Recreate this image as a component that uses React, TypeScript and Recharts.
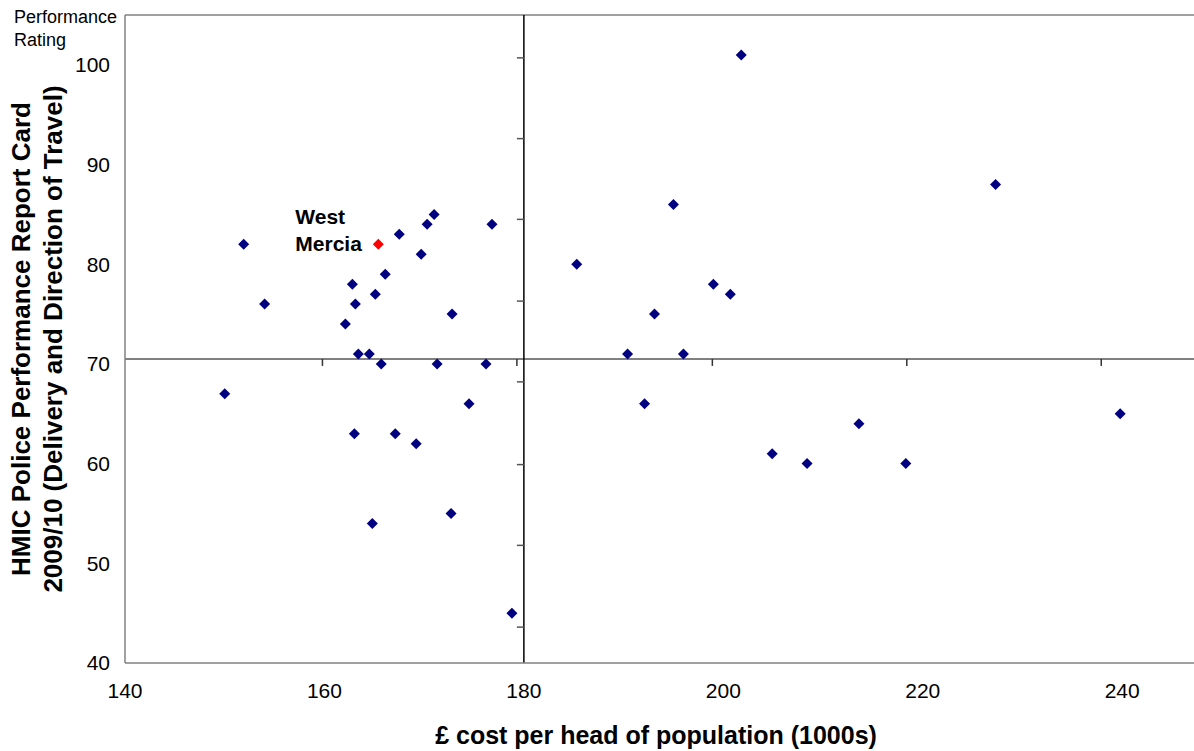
import React from "react";
import { ScatterChart, Scatter, XAxis, YAxis, ReferenceLine } from "recharts";

const costTicks = [140, 160, 180, 200, 220, 240];
const ratingTicks = [40, 50, 60, 70, 80, 90, 100];

// quadrant axes cross here, with their own (secondary) tick spacing
const crossCost = 180;
const crossRating = 70.5;
const crossCostTicks = [159.8, 179.3, 198.9, 218.4, 237.9];
const crossRatingTicks = [100.7, 92.6, 84.5, 76.3, 68.2, 59.9, 51.8, 43.6];

const forceCost = [
  151.9, 154.0, 150.0, 162.1, 162.8, 163.1, 163.4, 164.5, 165.1, 165.7, 166.1,
  167.5, 169.7, 170.3, 171.0, 172.8, 171.3, 176.8, 176.2, 174.5, 163.0, 167.1,
  169.2, 164.8, 172.7, 178.8, 185.3, 190.4, 192.1, 193.1, 195.0, 196.0, 199.0,
  200.7, 201.8, 204.9, 208.4, 213.6, 218.3, 227.3, 239.8,
];
const forceRating = [
  82, 76, 67, 74, 78, 76, 71, 71, 77, 70, 79, 83, 81, 84, 85, 75, 70, 84, 70, 66,
  63, 63, 62, 54, 55, 45, 80, 71, 66, 75, 86, 71, 78, 77, 101, 61, 60, 64, 60, 88,
  65,
];
const westMercia = { name: "West Mercia", cost: 165.4, rating: 82 };

const forces = forceCost.map((cost, i) => ({ cost, rating: forceRating[i] }));

const FONT = '"Liberation Sans", Arial, sans-serif';

function Diamond({ cx, cy, fill }: any) {
  const r = 5.5;
  return (
    <polygon
      points={`${cx},${cy - r} ${cx + r},${cy} ${cx},${cy + r} ${cx - r},${cy}`}
      fill={fill}
    />
  );
}

function WestMerciaPoint(props: any) {
  const { cx, cy } = props;
  const [first, second] = westMercia.name.split(" ");
  return (
    <g>
      <Diamond cx={cx} cy={cy} fill="#ff0000" />
      <text x={cx - 83} y={cy - 20} fontSize={21} fontWeight="bold" fill="#000" fontFamily={FONT}>
        {first}
      </text>
      <text x={cx - 83} y={cy + 7} fontSize={21} fontWeight="bold" fill="#000" fontFamily={FONT}>
        {second}
      </text>
    </g>
  );
}

function YTitle({ viewBox }: any) {
  const cy = viewBox.y + viewBox.height / 2;
  return (
    <g fontFamily={FONT} fontWeight="bold" fontSize={26} fill="#000">
      <text x={30} y={cy} transform={`rotate(-90 30 ${cy})`} textAnchor="middle">
        HMIC Police Performance Report Card
      </text>
      <text x={62} y={cy} transform={`rotate(-90 62 ${cy})`} textAnchor="middle">
        2009/10 (Delivery and Direction of Travel)
      </text>
    </g>
  );
}

function XTitle({ viewBox }: any) {
  return (
    <text
      x={656}
      y={viewBox.y + 81}
      textAnchor="middle"
      fontFamily={FONT}
      fontWeight="bold"
      fontSize={25}
      fill="#000"
    >
      £ cost per head of population (1000s)
    </text>
  );
}

export default function App() {
  return (
    <div style={{ position: "absolute", left: 0, top: 0, width: 1194, height: 751, fontFamily: FONT }}>
      <div
        style={{
          position: "absolute",
          left: 14,
          top: 6,
          fontSize: 18,
          lineHeight: "23px",
          color: "#000",
        }}
      >
        Performance
        <br />
        Rating
      </div>
      <ScatterChart width={1194} height={751} margin={{ top: 15, right: 0, bottom: 0, left: 0 }}>
        <XAxis
          type="number"
          dataKey="cost"
          domain={[140, 247.2]}
          ticks={costTicks}
          allowDataOverflow
          height={88}
          axisLine={{ stroke: "#808080", strokeWidth: 1.5 }}
          tickLine={false}
          tickMargin={14}
          tick={{ fontSize: 21, fill: "#000", fontFamily: FONT }}
          label={{ content: <XTitle /> }}
        />
        <YAxis
          type="number"
          dataKey="rating"
          domain={[40, 105]}
          ticks={ratingTicks}
          allowDataOverflow
          width={125}
          axisLine={{ stroke: "#808080", strokeWidth: 1.5 }}
          tickLine={false}
          tickMargin={9}
          tick={{ fontSize: 21, fill: "#000", fontFamily: FONT }}
          label={{ content: <YTitle /> }}
        />
        <ReferenceLine y={105} stroke="#808080" strokeWidth={1.5} ifOverflow="visible" />
        <ReferenceLine y={crossRating} stroke="#808080" strokeWidth={2} />
        <ReferenceLine x={crossCost} stroke="#000" strokeWidth={1.5} />
        {crossCostTicks.map((t) => (
          <ReferenceLine
            key={`cx${t}`}
            segment={[
              { x: t, y: crossRating },
              { x: t, y: crossRating - 0.7 },
            ]}
            stroke="#333"
            strokeWidth={1.5}
          />
        ))}
        {crossRatingTicks.map((t) => (
          <ReferenceLine
            key={`cy${t}`}
            segment={[
              { x: crossCost - 0.7, y: t },
              { x: crossCost, y: t },
            ]}
            stroke="#555"
            strokeWidth={1.5}
          />
        ))}
        <Scatter
          data={forces}
          fill="#000080"
          shape={(p: any) => <Diamond cx={p.cx} cy={p.cy} fill="#000080" />}
          isAnimationActive={false}
        />
        <Scatter
          data={[westMercia]}
          fill="#ff0000"
          shape={(p: any) => <WestMerciaPoint cx={p.cx} cy={p.cy} />}
          isAnimationActive={false}
        />
      </ScatterChart>
    </div>
  );
}
